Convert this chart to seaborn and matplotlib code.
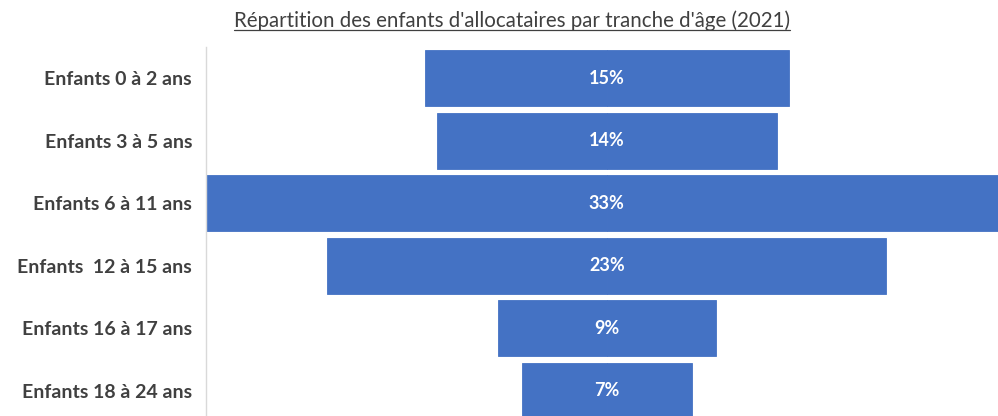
import matplotlib
matplotlib.use('Agg')
import seaborn as sns
from matplotlib import pyplot as plt
from matplotlib.lines import Line2D

# 데이터
categories = ['Enfants 0 à 2 ans', 'Enfants 3 à 5 ans', 'Enfants 6 à 11 ans',
              'Enfants  12 à 15 ans', 'Enfants 16 à 17 ans', 'Enfants 18 à 24 ans']
values = [15, 14, 33, 23, 9, 7]
value_labels = ['15%', '14%', '33%', '23%', '9%', '7%']
title = "Répartition des enfants d'allocataires par tranche d'âge (2021)"

sns.set_style('white')
plt.rcParams['font.family'] = ['Lato', 'DejaVu Sans']

bar_color = '#4472C4'
text_color = '#404040'

fig = plt.figure(figsize=(9.98, 4.16), dpi=100)
ax = fig.add_axes([206 / 998, -6 / 416, 792 / 998, 375 / 416])

# 가운데 정렬 막대 (좌우 절반씩)
half_right = [v / 2 for v in values]
half_left = [-v / 2 for v in values]
sns.barplot(x=half_right, y=categories, orient='h', color=bar_color, saturation=1,
            width=0.9, edgecolor=bar_color, linewidth=0.6, ax=ax)
sns.barplot(x=half_left, y=categories, orient='h', color=bar_color, saturation=1,
            width=0.9, edgecolor=bar_color, linewidth=0.6, ax=ax)

for i, lab in enumerate(value_labels):
    ax.text(0, i, lab, ha='center', va='center', color='white',
            fontsize=13, fontweight='bold')

ax.set_xlim(-16.5, 16.1)
ax.set_ylim(5.5, -0.5)
ax.set_xticks([])
ax.set_xlabel('')
ax.set_ylabel('')
ax.tick_params(axis='y', length=0, pad=10, labelsize=14, labelcolor=text_color)
for t in ax.get_yticklabels():
    t.set_fontweight('bold')

for s in ['top', 'right', 'bottom']:
    ax.spines[s].set_visible(False)
ax.spines['left'].set_color('#d9d9d9')
ax.spines['left'].set_linewidth(1)

# 제목 + 밑줄
t = fig.text(512 / 998, 1 - 21 / 416, title, ha='center', va='center',
             fontsize=14.8, color=text_color)
fig.canvas.draw()
bb = t.get_window_extent().transformed(fig.transFigure.inverted())
fig.add_artist(Line2D([bb.x0, bb.x1], [bb.y0 + 0.004, bb.y0 + 0.004],
                      transform=fig.transFigure, color=text_color, linewidth=0.9))

fig.savefig('out.png', dpi=100)
